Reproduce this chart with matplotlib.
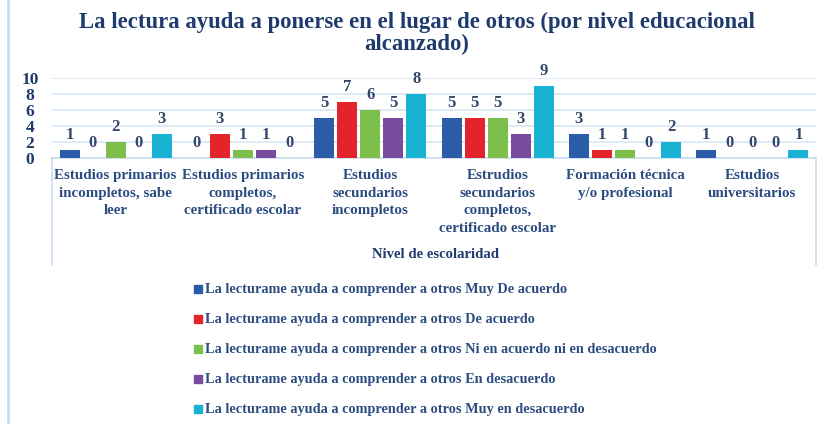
import matplotlib
matplotlib.use("Agg")
import matplotlib.pyplot as plt
from matplotlib.lines import Line2D
from matplotlib.patches import Rectangle
import numpy as np

categories = [
    "Estudios primarios\nincompletos, sabe\nleer",
    "Estudios primarios\ncompletos,\ncertificado escolar",
    "Estudios\nsecundarios\nincompletos",
    "Estrudios\nsecundarios\ncompletos,\ncertificado escolar",
    "Formación técnica\ny/o profesional",
    "Estudios\nuniversitarios",
]
series_names = [
    "La lecturame ayuda a comprender a otros Muy De acuerdo",
    "La lecturame ayuda a comprender a otros De acuerdo",
    "La lecturame ayuda a comprender a otros Ni en acuerdo ni en desacuerdo",
    "La lecturame ayuda a comprender a otros En desacuerdo",
    "La lecturame ayuda a comprender a otros Muy en desacuerdo",
]
muy_de_acuerdo = [1, 0, 5, 5, 3, 1]
de_acuerdo = [0, 3, 7, 5, 1, 0]
ni_ni = [2, 1, 6, 5, 1, 0]
en_desacuerdo = [0, 1, 5, 3, 0, 0]
muy_en_desacuerdo = [3, 0, 8, 9, 2, 1]
series = [muy_de_acuerdo, de_acuerdo, ni_ni, en_desacuerdo, muy_en_desacuerdo]
colors = ["#2A5CA8", "#E3242B", "#7CC04B", "#7A4A9E", "#19B2D2"]
yticks = [0, 2, 4, 6, 8, 10]

W, H = 830, 424
fig = plt.figure(figsize=(W / 100, H / 100), dpi=100)
FONT = "Liberation Serif"
NAVY = "#1F3B6E"
TXT = "#2B4C80"

def fx(px):
    return px / W

def fy(py):
    return 1 - py / H

# left decorative border
fig.add_artist(Line2D([fx(8), fx(8)], [0, 1], color="#C9DDF0", lw=2))

fig.text(fx(417), fy(22), "La lectura ayuda a ponerse en el lugar de otros (por nivel educacional",
         ha="center", va="center", fontsize=16.4, fontweight="bold", color=NAVY, family=FONT)
fig.text(fx(417), fy(44), "alcanzado)", ha="center", va="center", fontsize=16.4,
         fontweight="bold", color=NAVY, family=FONT)

ax_l, ax_r, ax_top, ax_bot = 52, 816, 78, 158
ax = fig.add_axes([fx(ax_l), fy(ax_bot), fx(ax_r - ax_l), (ax_bot - ax_top) / H])
ax.set_ylim(0, 10)
n = len(categories)
ax.set_xlim(0, n)
x = np.arange(n) + 0.5
slot = 0.181
bw = 0.158
for i, (vals, c) in enumerate(zip(series, colors)):
    pos = x + (i - 2) * slot
    ax.bar(pos, vals, width=bw, color=c, zorder=3)
    for p, v in zip(pos, vals):
        ax.annotate(str(v), (p, v), xytext=(0, 5), textcoords="offset points",
                    ha="center", va="bottom", fontsize=12, fontweight="bold",
                    color="#34456A", family=FONT)

ax.set_yticks(yticks)
ax.set_yticklabels([str(t) for t in yticks], fontsize=12.5, fontweight="bold",
                   color=NAVY, family=FONT)
ax.yaxis.grid(True, color="#D8E6F3", lw=1.2, zorder=0)
for lbl in ax.get_yticklabels():
    lbl.set_ha("center")
ax.tick_params(axis="y", length=0, pad=16)
ax.set_xticks(x)
ax.set_xticklabels(categories, fontsize=10.8, fontweight="bold", color=TXT,
                   family=FONT, linespacing=1.45)
ax.tick_params(axis="x", length=0, pad=8)
for s in ["top", "right", "left"]:
    ax.spines[s].set_visible(False)
ax.spines["bottom"].set_color("#C9DDF0")
ax.spines["bottom"].set_linewidth(1.2)
ax.set_facecolor("none")

# category box side lines
fig.add_artist(Line2D([fx(ax_l), fx(ax_l)], [fy(158), fy(265)], color="#C9DDF0", lw=1.2))
fig.add_artist(Line2D([fx(ax_r), fx(ax_r)], [fy(158), fy(265)], color="#C9DDF0", lw=1.2))

fig.text(fx(435), fy(255), "Nivel de escolaridad", ha="center", va="center",
         fontsize=10.6, fontweight="bold", color=NAVY, family=FONT)

# legend
for k, (name, c) in enumerate(zip(series_names, colors)):
    yy = 289 + 30 * k
    fig.add_artist(Rectangle((fx(194), fy(yy + 4)), fx(8), 8 / H, color=c,
                             transform=fig.transFigure))
    fig.text(fx(205), fy(yy), name, ha="left", va="center", fontsize=10.3,
             fontweight="bold", color=TXT, family=FONT)

fig.savefig("out.png", dpi=100)
